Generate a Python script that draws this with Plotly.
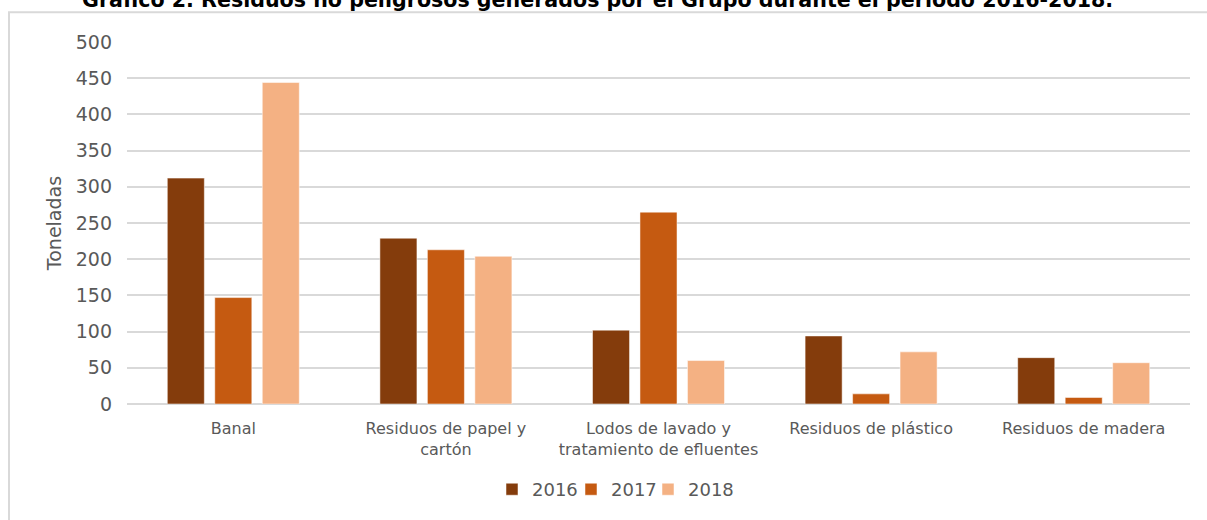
import plotly.graph_objects as go

categories = ["Banal", "Residuos de papel y<br>cartón", "Lodos de lavado y<br>tratamiento de efluentes",
              "Residuos de plástico", "Residuos de madera"]
years = ["2016", "2017", "2018"]
v2016 = [312, 229, 102, 94, 64]
v2017 = [147, 213, 265, 14, 9]
v2018 = [444, 204, 60, 72, 57]
colors = ["#843C0C", "#C55A11", "#F4B183"]
y_ticks = [0, 50, 100, 150, 200, 250, 300, 350, 400, 450, 500]
title = "Gráfico 2. Residuos no peligrosos generados por el Grupo durante el periodo 2016-2018."

W, H = 1207, 520
L, R, T, B = 127, 17, 42, 114
pw, ph = W - L - R, H - T - B

def px(x):
    return (x - L) / pw

def py(y):
    return (H - B - y) / ph

legend_ids = ["legend", "legend2", "legend3"]
legend_left = [492, 571, 648]

fig = go.Figure()
for name, vals, c, lid in zip(years, [v2016, v2017, v2018], colors, legend_ids):
    fig.add_trace(go.Bar(x=categories, y=vals, name=name, marker_color=c, legend=lid,
                         marker_line_color="rgba(255,255,255,0.5)", marker_line_width=1))

legend_style = dict(orientation="h", xanchor="left", y=py(492), yanchor="middle",
                    font=dict(size=18, color="#595959"), itemwidth=30,
                    bgcolor="rgba(0,0,0,0)")

fig.update_layout(
    width=W, height=H,
    margin=dict(l=L, r=R, t=T, b=B),
    paper_bgcolor="white", plot_bgcolor="white",
    barmode="group", bargap=0.33, bargroupgap=0.22,
    font=dict(family="DejaVu Sans", color="#595959"),
    showlegend=True,
    legend=dict(x=px(legend_left[0]), **legend_style),
    legend2=dict(x=px(legend_left[1]), **legend_style),
    legend3=dict(x=px(legend_left[2]), **legend_style),
    xaxis=dict(showgrid=False, ticks="", tickfont=dict(size=16, color="#595959"),
               showline=False, ticklabelstandoff=13, automargin=False),
    yaxis=dict(range=[0, 500], tickvals=y_ticks, gridcolor="#d9d9d9", gridwidth=2,
               zeroline=True, zerolinecolor="#d9d9d9", zerolinewidth=2, automargin=False,
               tickfont=dict(size=19, color="#595959"), ticklabelstandoff=14,
               title=dict(text="Toneladas", font=dict(size=19, color="#595959"), standoff=9)),
)

fig.add_shape(type="rect", xref="paper", yref="paper",
              x0=px(9), x1=px(1220), y0=py(12), y1=py(530),
              line=dict(color="#d9d9d9", width=2), layer="below")

fig.add_annotation(text="<b>" + title + "</b>", xref="paper", yref="paper",
                   x=px(597), y=py(14), xanchor="center", yanchor="bottom",
                   showarrow=False, font=dict(family="DejaVu Sans", size=20.6, color="black"))

fig.write_html("out.html")
